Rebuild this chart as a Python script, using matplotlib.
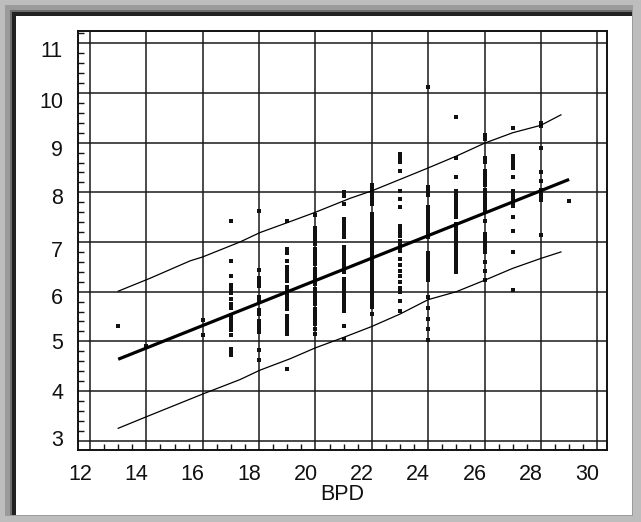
import matplotlib
matplotlib.use("Agg")
import matplotlib.pyplot as plt
import matplotlib.transforms as mtransforms
from matplotlib.patches import Rectangle
from matplotlib.ticker import MultipleLocator
import numpy as np

plt.rcParams['font.family'] = ['Liberation Sans', 'DejaVu Sans']

# ---- data ----
col13 = [5.31]
col14 = [4.91]
col16 = [5.42, 5.13]
col17 = [7.42, 6.62, 6.32, 6.13, 6.05, 5.97, 5.85, 5.75, 5.67, 5.53, 5.45, 5.38,
         5.30, 5.23, 5.13, 4.85, 4.78, 4.72]
col18 = [7.62, 6.43, 6.27, 6.20, 6.12, 5.90, 5.82, 5.64, 5.56, 5.40, 5.33, 5.26,
         5.19, 4.83, 4.62]
col19 = [7.42, 6.85, 6.78, 6.62, 6.50, 6.42, 6.35, 6.28, 6.22, 6.10, 6.02, 5.95,
         5.88, 5.80, 5.73, 5.65, 5.52, 5.45, 5.38, 5.30, 5.22, 5.15, 4.45]
col20 = [7.55, 7.28, 7.20, 7.12, 7.05, 6.95, 6.85, 6.78, 6.70, 6.62, 6.55, 6.45,
         6.38, 6.30, 6.22, 6.15, 6.05, 5.98, 5.90, 5.82, 5.75, 5.65, 5.58, 5.50,
         5.42, 5.35, 5.25, 5.15]
col21 = [8.00, 7.92, 7.76, 7.46, 7.39, 7.32, 7.25, 7.18, 7.10, 6.89, 6.82, 6.75,
         6.68, 6.61, 6.54, 6.47, 6.40, 6.26, 6.19, 6.12, 6.05, 5.98, 5.91, 5.84,
         5.77, 5.70, 5.62, 5.30, 5.05]
col22 = [8.14, 8.07, 8.02, 7.96, 7.90, 7.84, 7.76, 7.56, 7.50, 7.44, 7.38, 7.32,
         7.26, 7.20, 7.14, 7.08, 7.02, 6.96, 6.90, 6.84, 6.78, 6.72, 6.66, 6.60,
         6.54, 6.48, 6.42, 6.36, 6.30, 6.24, 6.18, 6.12, 6.06, 6.00, 5.94, 5.88,
         5.82, 5.76, 5.70, 5.55]
col23 = [8.77, 8.70, 8.61, 8.43, 8.03, 7.86, 7.70, 7.33, 7.26, 7.20, 7.13, 7.03,
         6.96, 6.89, 6.82, 6.66, 6.53, 6.42, 6.32, 6.19, 6.07, 5.99, 5.82, 5.62]
col24 = [10.12, 8.10, 8.03, 7.95, 7.70, 7.62, 7.55, 7.48, 7.40, 7.33, 7.25, 7.18,
         7.10, 6.77, 6.70, 6.62, 6.55, 6.47, 6.40, 6.32, 6.23, 5.90, 5.67, 5.45,
         5.25, 5.03]
col25 = [9.52, 8.70, 8.30, 8.02, 7.95, 7.88, 7.80, 7.72, 7.65, 7.57, 7.50, 7.37,
         7.30, 7.22, 7.15, 7.07, 7.00, 6.93, 6.85, 6.78, 6.70, 6.62, 6.55, 6.47, 6.40]
col26 = [9.15, 9.07, 8.70, 8.62, 8.43, 8.35, 8.28, 8.22, 8.15, 8.05, 7.98, 7.92,
         7.85, 7.78, 7.70, 7.62, 7.43, 7.17, 7.10, 7.03, 6.95, 6.88, 6.80, 6.60,
         6.42, 6.23]
col27 = [9.30, 8.73, 8.65, 8.57, 8.48, 8.30, 8.03, 7.95, 7.88, 7.80, 7.73, 7.50,
         7.23, 6.80, 6.03]
col28 = [9.40, 9.33, 8.90, 8.40, 8.22, 8.05, 7.98, 7.92, 7.85, 7.15]
col29 = [7.82]

bpd_values = [13, 14, 16, 17, 18, 19, 20, 21, 22, 23, 24, 25, 26, 27, 28, 29]
columns = [col13, col14, col16, col17, col18, col19, col20, col21, col22, col23,
           col24, col25, col26, col27, col28, col29]

# regression line end points
reg_x = [13, 29]
reg_y = [4.64, 8.26]

# upper and lower prediction limits
upper_x = [13, 14.13, 15.55, 16.0, 17.32, 18.03, 19.0, 20.0, 21.23, 22.0, 23.0,
           23.95, 25.0, 26.0, 27.0, 28.0, 28.71]
upper_y = [6.01, 6.27, 6.62, 6.70, 7.00, 7.19, 7.39, 7.60, 7.88, 8.03, 8.26,
           8.48, 8.73, 8.99, 9.20, 9.35, 9.56]
lower_x = [13, 13.99, 16.0, 17.32, 18.03, 19.1, 20.0, 21.0, 22.0, 23.0, 24.0,
           25.0, 26.0, 27.0, 28.0, 28.71]
lower_y = [3.25, 3.48, 3.94, 4.23, 4.42, 4.65, 4.87, 5.08, 5.30, 5.55, 5.84,
           6.00, 6.23, 6.47, 6.67, 6.80]

xtick_vals = [12, 14, 16, 18, 20, 22, 24, 26, 28, 30]
xtick_labels = ['12', '14', '16', '18', '20', '22', '24', '26', '28', '30']
ytick_vals = [3, 4, 5, 6, 7, 8, 9, 10, 11]
ytick_labels = ['3', '4', '5', '6', '7', '8', '9', '10', '11']
x_label = 'BPD'

# ---- figure ----
W, H = 641, 522
DPI = 100
FS = 15.5
fig = plt.figure(figsize=(W / DPI, H / DPI), dpi=DPI)
fig.patch.set_facecolor('#a9a9a9')

def px_rect(x0, y0, x1, y1, color, z):
    r = Rectangle((x0 / W, 1 - y1 / H), (x1 - x0) / W, (y1 - y0) / H,
                  transform=fig.transFigure, facecolor=color, edgecolor='none',
                  zorder=z)
    fig.add_artist(r)

px_rect(0, 0, W, H, '#bdbdbd', -10)
px_rect(5, 5, 633, 516, '#9a9a9a', -9)
px_rect(10, 10, 632, 515, '#6e6e6e', -9)
px_rect(12, 12, 632, 515, '#222222', -8)
px_rect(16, 16, 632, 515, 'white', -7)

ax_l, ax_r, ax_t, ax_b = 78, 606.7, 31, 450
ax = fig.add_axes([ax_l / W, 1 - ax_b / H, (ax_r - ax_l) / W, (ax_b - ax_t) / H])
ax.set_facecolor('white')
ax.set_xlim(11.574, 30.334)
ax.set_ylim(2.813, 11.248)

for s in ax.spines.values():
    s.set_linewidth(1.4)
    s.set_color('#111111')

ax.set_xticks(xtick_vals)
ax.set_yticks(ytick_vals)
ax.xaxis.set_minor_locator(MultipleLocator(0.5))
ax.yaxis.set_minor_locator(MultipleLocator(0.2))
ax.tick_params(which='major', length=0, labelbottom=False, labelleft=False)
ax.tick_params(which='minor', direction='in', length=4, width=1.0,
               color='#111111', bottom=True, left=True, top=False, right=False)
ax.grid(True, which='major', color='#1a1a1a', linewidth=1.1)
ax.set_axisbelow(True)

# scatter points
xs = []
ys = []
for b, col in zip(bpd_values, columns):
    xs.extend([b] * len(col))
    ys.extend(col)
ax.scatter(xs, ys, marker='s', s=4.8, color='#111111', linewidths=0, zorder=3)

ax.plot(reg_x, reg_y, color='#000000', linewidth=2.3, zorder=4,
        solid_capstyle='butt')
ax.plot(upper_x, upper_y, color='#000000', linewidth=0.9, zorder=4)
ax.plot(lower_x, lower_y, color='#000000', linewidth=0.9, zorder=4)

# tick labels (placed slightly offset, as in the original)
xlab_tr = mtransforms.blended_transform_factory(ax.transData, ax.transAxes) + \
    mtransforms.ScaledTranslation(-10 / DPI, -24 / DPI, fig.dpi_scale_trans)
for v, t in zip(xtick_vals, xtick_labels):
    ax.text(v, 0, t, transform=xlab_tr, ha='center', va='center',
            fontsize=FS, color='#111111', clip_on=False)

y_offsets_px = [0, 2, 2, 6.6, 9, 6.6, 8.3, 10, 8.4]
for v, t, off in zip(ytick_vals, ytick_labels, y_offsets_px):
    tr = mtransforms.blended_transform_factory(ax.transAxes, ax.transData) + \
        mtransforms.ScaledTranslation(-15 / DPI, -off / DPI, fig.dpi_scale_trans)
    ax.text(0, v, t, transform=tr, ha='right', va='center', fontsize=FS,
            color='#111111', clip_on=False)

fig.text((ax_l + ax_r) / 2 / W, 1 - 494 / H, x_label, ha='center', va='center',
         fontsize=FS, color='#111111')

fig.savefig('out.png', dpi=DPI, facecolor=fig.get_facecolor())
